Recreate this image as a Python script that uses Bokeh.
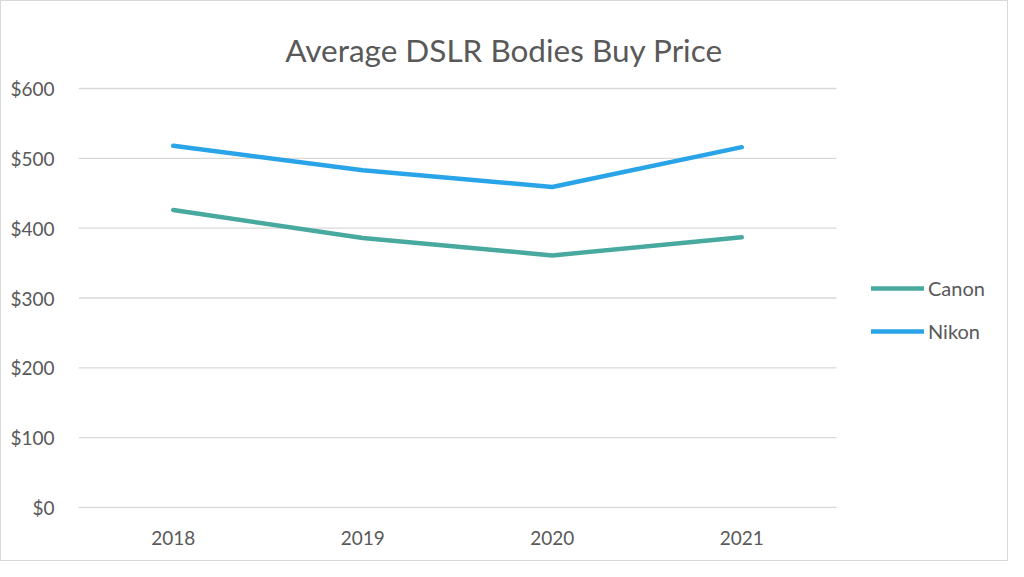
from bokeh.plotting import figure
from bokeh.models import Range1d, FixedTicker, PrintfTickFormatter, Legend, LegendItem, Label
from bokeh.embed import file_html
from bokeh.resources import INLINE

years = ["2018", "2019", "2020", "2021"]
canon = [426, 386, 361, 387]
nikon = [518, 483, 459, 516]
y_ticks = [0, 100, 200, 300, 400, 500, 600]
title_text = "Average DSLR Bodies Buy Price"

FONT = "Lato"
TXT = "#595959"

# layout (pixels inside the figure)
W, H = 1008, 561
LEFT, BOTTOM = 77, 54
BAND = 189.5                 # width of one category band
ZERO_PX = H - BOTTOM - 1     # pixel row of $0 from the top
PX_PER_UNIT = 419 / 600.0

xs = list(range(len(years)))
x_start = -0.5
x_end = x_start + (W - LEFT) / BAND
y_start = -(H - BOTTOM - ZERO_PX) / PX_PER_UNIT
y_end = ZERO_PX / PX_PER_UNIT

p = figure(width=W, height=H, output_backend="svg", toolbar_location=None,
           x_range=Range1d(x_start, x_end), y_range=Range1d(y_start, y_end),
           min_border_left=LEFT, min_border_right=0, min_border_top=0, min_border_bottom=BOTTOM)

p.outline_line_color = None
p.styles = {"border": "1px solid #d9d9d9"}
p.xgrid.grid_line_color = None
p.ygrid.grid_line_color = None

# horizontal gridlines spanning the category bands only
p.segment(x0=[x_start] * len(y_ticks), x1=[len(years) - 0.5] * len(y_ticks),
          y0=y_ticks, y1=y_ticks, line_color="#D9D9D9", line_width=1.3)

c = p.line(xs, canon, line_color="#48A99F", line_width=4.5, line_cap="round", line_join="round")
n = p.line(xs, nikon, line_color="#2AA4E8", line_width=4.5, line_cap="round", line_join="round")

p.xaxis.ticker = FixedTicker(ticks=xs)
p.xaxis.major_label_overrides = {i: y for i, y in zip(xs, years)}
p.yaxis.ticker = FixedTicker(ticks=y_ticks)
p.yaxis.formatter = PrintfTickFormatter(format="$%d")
for ax in (p.xaxis, p.yaxis):
    ax.axis_line_color = None
    ax.major_tick_line_color = None
    ax.minor_tick_line_color = None
    ax.major_label_text_font = FONT
    ax.major_label_text_font_size = "19px"
    ax.major_label_text_color = TXT
p.yaxis.major_label_standoff = 18
p.xaxis.major_label_standoff = 16

# chart title
title_cx_px, title_base_px = 502.5, 48
p.add_layout(Label(x=(title_cx_px - LEFT) / BAND + x_start,
                   y=(ZERO_PX - title_base_px) / PX_PER_UNIT,
                   text=title_text, text_font=FONT, text_font_size="31.5px",
                   text_color=TXT, text_align="center", text_baseline="alphabetic"))

legend = Legend(items=[LegendItem(label="Canon", renderers=[c]),
                       LegendItem(label="Nikon", renderers=[n])],
                location=(870 - LEFT, (H - BOTTOM) - 342), orientation="vertical",
                glyph_width=53, glyph_height=20, label_height=20,
                label_standoff=4, spacing=19, padding=0, margin=0,
                border_line_color=None, background_fill_alpha=0,
                label_text_font=FONT, label_text_font_size="20px", label_text_color=TXT)
p.add_layout(legend)

open("out.html", "w").write(file_html(p, INLINE))
